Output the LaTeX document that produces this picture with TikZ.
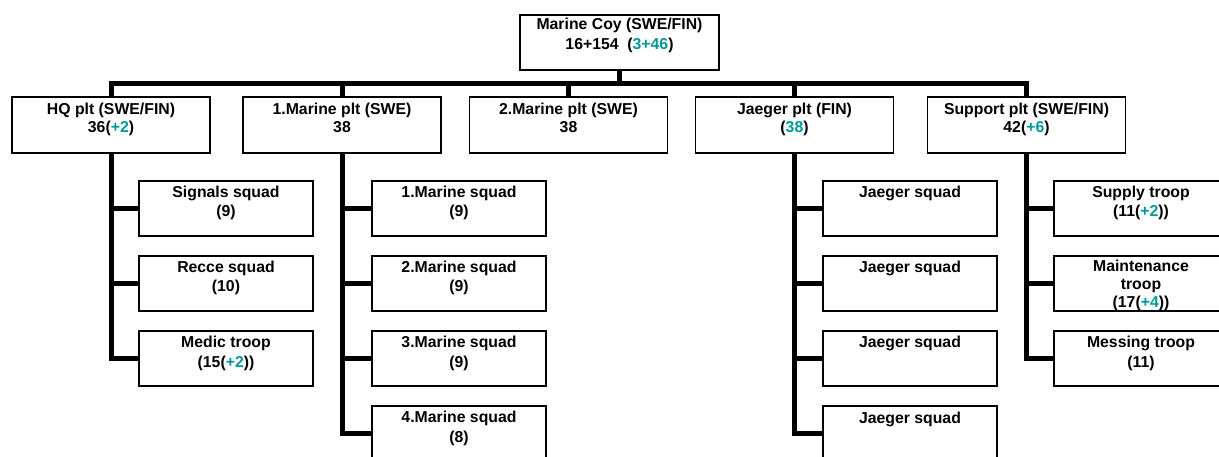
\documentclass[tikz,border=0pt]{standalone}
\usepackage{fontspec}
\setmainfont{Liberation Sans}
\usetikzlibrary{calc}
\definecolor{tl}{RGB}{0,153,153}
\newcommand{\tc}[1]{\textcolor{tl}{#1}}
\begin{document}
\begin{tikzpicture}[x=1pt,y=-1pt,
 box/.style={draw=black, line width=1.5pt, fill=white, rectangle, inner sep=0pt, outer sep=0pt},
 topbox/.style={box, minimum width=199pt, minimum height=55pt},
 pltbox/.style={box, minimum width=198pt, minimum height=56pt},
 sqbox/.style={box, minimum width=174pt, minimum height=55pt},
 txt/.style={font=\fontsize{15.8}{19}\selectfont\bfseries, inner sep=0pt, anchor=base},
 conn/.style={line width=5pt, draw=black}]
\useasboundingbox (0,0) rectangle (1219,457);

% connectors first
\coordinate (dummy) at (0,0);

% boxes
\node[topbox] (coy) at (619.5,42.5) {};
\node[pltbox] (hq) at (111,125) {};
\node[pltbox] (m1) at (342,125) {};
\node[pltbox] (m2) at (568.5,125) {};
\node[pltbox] (jp) at (794.5,125) {};
\node[pltbox] (sp) at (1026.5,125) {};

\node[sqbox] (hq1) at (226,208.5) {};
\node[sqbox] (hq2) at (226,283.5) {};
\node[sqbox] (hq3) at (226,358.5) {};

\node[sqbox] (ms1) at (459,208.5) {};
\node[sqbox] (ms2) at (459,283.5) {};
\node[sqbox] (ms3) at (459,358.5) {};
\node[sqbox] (ms4) at (459,433.5) {};

\node[sqbox] (js1) at (910,208.5) {};
\node[sqbox] (js2) at (910,283.5) {};
\node[sqbox] (js3) at (910,358.5) {};
\node[sqbox] (js4) at (910,433.5) {};

\node[sqbox] (ss1) at (1141,208.5) {};
\node[sqbox] (ss2) at (1141,283.5) {};
\node[sqbox] (ss3) at (1141,358.5) {};

% connectors
\foreach \p in {hq,m1,m2,jp,sp}
  \draw[conn] (coy.south) -- ++(0,14) -| (\p.north);
\foreach \c in {hq1,hq2,hq3}
  \draw[conn] (hq.south) |- (\c.west);
\foreach \c in {ms1,ms2,ms3,ms4}
  \draw[conn] (m1.south) |- (\c.west);
\foreach \c in {js1,js2,js3,js4}
  \draw[conn] (jp.south) |- (\c.west);
\foreach \c in {ss1,ss2,ss3}
  \draw[conn] (sp.south) |- (\c.west);

% texts
\node[txt] (coyA) at ($(coy.north)+(0,14.5)$) {Marine Coy (SWE/FIN)};
\node[txt] (coyB) at ($(coy.north)+(0,35)$) {16+154\ \ (\tc{3+46})};

\node[txt] (hqA) at ($(hq.north)+(0,18)$) {HQ plt (SWE/FIN)};
\node[txt] (hqB) at ($(hq.north)+(0,36)$) {36(\tc{+2})};
\node[txt] (m1A) at ($(m1.north)+(0,18)$) {1.Marine plt (SWE)};
\node[txt] (m1B) at ($(m1.north)+(0,36)$) {38};
\node[txt] (m2A) at ($(m2.north)+(0,18)$) {2.Marine plt (SWE)};
\node[txt] (m2B) at ($(m2.north)+(0,36)$) {38};
\node[txt] (jpA) at ($(jp.north)+(0,18)$) {Jaeger plt (FIN)};
\node[txt] (jpB) at ($(jp.north)+(0,36)$) {(\tc{38})};
\node[txt] (spA) at ($(sp.north)+(0,18)$) {Support plt (SWE/FIN)};
\node[txt] (spB) at ($(sp.north)+(0,36)$) {42(\tc{+6})};

\node[txt] (hq1A) at ($(hq1.north)+(0,16.5)$) {Signals squad};
\node[txt] (hq1B) at ($(hq1.north)+(0,36)$) {(9)};
\node[txt] (hq2A) at ($(hq2.north)+(0,16.5)$) {Recce squad};
\node[txt] (hq2B) at ($(hq2.north)+(0,36)$) {(10)};
\node[txt] (hq3A) at ($(hq3.north)+(0,16.5)$) {Medic troop};
\node[txt] (hq3B) at ($(hq3.north)+(0,36)$) {(15(\tc{+2}))};

\node[txt] (ms1A) at ($(ms1.north)+(0,16.5)$) {1.Marine squad};
\node[txt] (ms1B) at ($(ms1.north)+(0,36)$) {(9)};
\node[txt] (ms2A) at ($(ms2.north)+(0,16.5)$) {2.Marine squad};
\node[txt] (ms2B) at ($(ms2.north)+(0,36)$) {(9)};
\node[txt] (ms3A) at ($(ms3.north)+(0,16.5)$) {3.Marine squad};
\node[txt] (ms3B) at ($(ms3.north)+(0,36)$) {(9)};
\node[txt] (ms4A) at ($(ms4.north)+(0,16.5)$) {4.Marine squad};
\node[txt] (ms4B) at ($(ms4.north)+(0,36)$) {(8)};

\node[txt] (js1A) at ($(js1.north)+(0,17)$) {Jaeger squad};
\node[txt] (js2A) at ($(js2.north)+(0,17)$) {Jaeger squad};
\node[txt] (js3A) at ($(js3.north)+(0,17)$) {Jaeger squad};
\node[txt] (js4A) at ($(js4.north)+(0,17)$) {Jaeger squad};

\node[txt] (ss1A) at ($(ss1.north)+(0,16.5)$) {Supply troop};
\node[txt] (ss1B) at ($(ss1.north)+(0,36)$) {(11(\tc{+2}))};
\node[txt] (ss2A) at ($(ss2.north)+(0,16)$) {Maintenance};
\node[txt] (ss2B) at ($(ss2.north)+(0,34)$) {troop};
\node[txt] (ss2C) at ($(ss2.north)+(0,51.5)$) {(17(\tc{+4}))};
\node[txt] (ss3A) at ($(ss3.north)+(0,16.5)$) {Messing troop};
\node[txt] (ss3B) at ($(ss3.north)+(0,36)$) {(11)};
\end{tikzpicture}
\end{document}
